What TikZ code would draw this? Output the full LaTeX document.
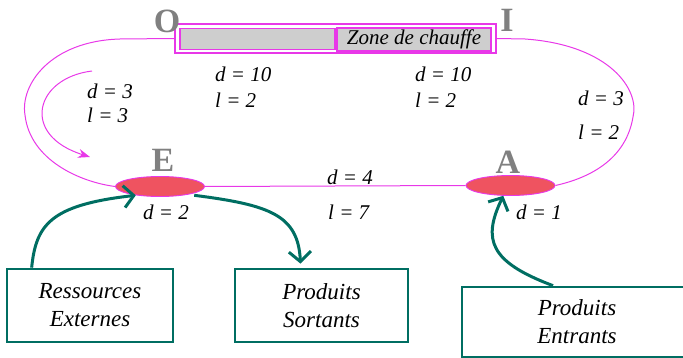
\documentclass[tikz,border=0pt]{standalone}
\usepackage{fontspec}
\setmainfont{Liberation Serif}
\usepackage{xcolor}
\definecolor{chmagenta}{RGB}{232,56,232}
\definecolor{chteal}{RGB}{0,110,98}
\definecolor{chred}{RGB}{239,83,96}
\definecolor{chgray}{RGB}{128,128,128}
\definecolor{chfill}{RGB}{206,206,206}
\usetikzlibrary{arrows.meta, positioning, shapes.geometric, calc}

\begin{document}
\begin{tikzpicture}[x=1pt, y=-1pt,
  loopline/.style={draw=chmagenta, line width=1pt},
  cell/.style={draw=chmagenta, fill=chfill, line width=1.1pt, inner sep=0pt},
  port/.style={ellipse, draw=chmagenta, fill=chred, line width=0.9pt,
               minimum width=89pt, minimum height=20pt, inner sep=0pt},
  letter/.style={font=\fontsize{34}{34}\selectfont\bfseries, text=chgray, inner sep=0pt},
  param/.style={font=\fontsize{21}{25}\selectfont\itshape, anchor=west, inner sep=0pt},
  outbox/.style={draw=chteal, line width=2.7pt, align=center, inner sep=0pt,
                 font=\fontsize{23}{28}\selectfont\itshape},
  flow/.style={draw=chteal, line width=3pt, -{Straight Barb[length=10pt, width=22pt]}}]

\clip (0,0) rectangle (683,358);

% ===== Heating bar (top) =====
\node[draw=chmagenta, line width=1.6pt, minimum width=321pt, minimum height=29pt,
      inner sep=0pt] (bar) at (335.5,38.5) {};
\node[cell, minimum width=155pt, minimum height=21pt] (cold) at (257.5,39) {};
\node[cell, minimum width=154pt, minimum height=23pt,
      font=\fontsize{21}{25}\selectfont\itshape] (zone) at (414,39.5) {Zone de chauffe};
\node[letter] (labO) at (167,21) {O};
\node[letter] (labI) at (507,20) {I};

% ===== Stations =====
\node[port] (E) at (160,186.5) {};
\node[port] (A) at (510.5,185.5) {};
\node[letter] (labE) at (163,160) {E};
\node[letter] (labA) at (508,162) {A};

% Magenta circuit
\draw[loopline] (bar.west) -- (120,39) .. controls (50,41) and (20,85) .. (25,115)
      .. controls (30,160) and (80,182) .. (E.west);
\draw[loopline] (bar.east) -- (525,39) .. controls (610,45) and (640,90) .. (633,117)
      .. controls (625,165) and (580,180) .. (A.east);
\draw[loopline] (E.east) -- (A.west);

% Inner arrow
\coordinate (inS) at (92,71);
\coordinate (inT) at (90,157);
\draw[loopline, -{Stealth[length=12pt, width=9pt]}] (inS) .. controls (35,78) and (20,135) .. (inT);

% ===== Parameters =====
\node[param] (dOE) at (87,91) {d = 3};
\node[param] (lOE) at (87,115) {l = 3};
\node[param] (dB1) at (215,74) {d = 10};
\node[param] (lB1) at (215,100) {l = 2};
\node[param] (dB2) at (415,74) {d = 10};
\node[param] (lB2) at (415,100) {l = 2};
\node[param] (dAI) at (578,98) {d = 3};
\node[param] (lAI) at (578,132) {l = 2};
\node[param] (dEA) at (327,177) {d = 4};
\node[param] (lEA) at (328,212) {l = 7};
\node[param] (dE) at (143,212) {d = 2};
\node[param] (dA) at (516,212) {d = 1};

% ===== Outside boxes =====
\node[outbox, minimum width=166pt, minimum height=73pt] (res) at (90,305.5) {Ressources\\Externes};
\node[outbox, minimum width=173pt, minimum height=73pt] (sor) at (321.5,305.5) {Produits\\Sortants};
\node[outbox, minimum width=230pt, minimum height=70pt] (ent) at (577,322) {Produits\\Entrants};

% Flows
\draw[flow] ([xshift=26pt]res.north west) .. controls (36,225) and (50,205) .. (E.200);
\draw[flow] ([xshift=10pt]E.-20) .. controls (270,205) and (298,215) .. ([xshift=-21pt, yshift=4pt]sor.north);
\draw[flow] ([xshift=-24pt]ent.north) .. controls (490,262) and (482,240) .. (A.235);

\end{tikzpicture}
\end{document}
